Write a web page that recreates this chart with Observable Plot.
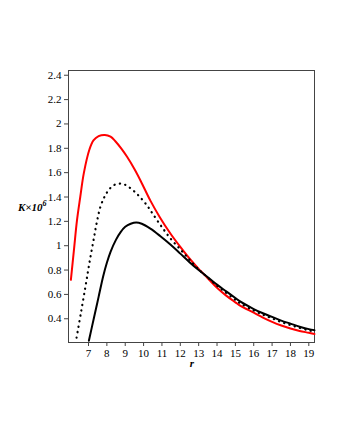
<!DOCTYPE html>
<html>
<head>
<meta charset="utf-8">
<script src="https://cdn.jsdelivr.net/npm/d3@7"></script>
<script src="https://cdn.jsdelivr.net/npm/@observablehq/plot@0.6"></script>
<style>
  html, body { margin: 0; padding: 0; background: #fff; }
  svg text { font-family: "Liberation Serif", "Times New Roman", Times, "DejaVu Serif", serif !important; }
</style>
</head>
<body>
<div id="chart"></div>
<script>
// Red solid curve
const redR = [6.04, 6.2, 6.37, 6.55, 6.75, 7.05, 7.27, 7.55, 7.89, 8.2, 8.45, 8.8, 9.1, 9.5, 9.85, 10.37, 10.9, 11.46, 12.0, 12.5, 13.0, 13.28, 14.0, 14.5, 15.0, 15.28, 16.0, 16.5, 17.0, 17.5, 18.0, 18.5, 19.0, 19.31];
const redK = [0.72, 0.955, 1.206, 1.40, 1.60, 1.79, 1.865, 1.9, 1.91, 1.895, 1.86, 1.795, 1.73, 1.63, 1.53, 1.37, 1.23, 1.10, 0.99, 0.895, 0.81, 0.767, 0.655, 0.59, 0.535, 0.505, 0.45, 0.41, 0.375, 0.345, 0.32, 0.30, 0.285, 0.275];

// Dotted curve
const dotR = [6.35, 6.6, 6.84, 7.05, 7.29, 7.45, 7.65, 7.9, 8.2, 8.45, 8.74, 9.0, 9.46, 9.8, 10.19, 10.46, 10.92, 11.46, 12.0, 12.5, 13.0, 13.28, 14.0, 14.5, 15.0, 15.28, 16.0, 16.5, 17.0, 17.5, 18.0, 18.5, 19.0, 19.31];
const dotK = [0.245, 0.46, 0.67, 0.86, 1.06, 1.19, 1.32, 1.41, 1.475, 1.502, 1.51, 1.50, 1.45, 1.40, 1.33, 1.27, 1.17, 1.06, 0.97, 0.885, 0.805, 0.767, 0.672, 0.613, 0.555, 0.525, 0.468, 0.433, 0.403, 0.373, 0.348, 0.325, 0.305, 0.295];

// Black solid curve
const blkR = [7.02, 7.3, 7.55, 7.8, 8.0, 8.2, 8.5, 8.74, 9.0, 9.3, 9.6, 9.9, 10.37, 10.9, 11.46, 12.0, 12.5, 13.0, 13.28, 14.0, 14.5, 15.0, 15.28, 16.0, 16.5, 17.0, 17.5, 18.0, 18.5, 19.0, 19.31];
const blkK = [0.22, 0.41, 0.58, 0.75, 0.86, 0.95, 1.05, 1.11, 1.155, 1.18, 1.19, 1.18, 1.14, 1.08, 1.01, 0.935, 0.865, 0.80, 0.767, 0.68, 0.625, 0.57, 0.54, 0.48, 0.445, 0.415, 0.385, 0.36, 0.335, 0.315, 0.305];

const xTicks = [7, 8, 9, 10, 11, 12, 13, 14, 15, 16, 17, 18, 19];
const yTicks = [0.4, 0.6, 0.8, 1, 1.2, 1.4, 1.6, 1.8, 2, 2.2, 2.4];
const xDomain = [5.91, 19.31];
const yDomain = [0.205, 2.439];

const toRows = (rs, ks) => rs.map((r, i) => ({r, k: ks[i]}));
const red = toRows(redR, redK);
const dot = toRows(dotR, dotK);
const blk = toRows(blkR, blkK);

const plot = Plot.plot({
  width: 340,
  height: 440,
  marginLeft: 68,
  marginRight: 26,
  marginTop: 70,
  marginBottom: 98,
  style: {fontFamily: "Liberation Serif, Times New Roman, serif", fontSize: "11px", color: "#000", background: "#fff"},
  x: {domain: xDomain, ticks: xTicks, tickSize: 4, tickPadding: 3, label: null},
  y: {domain: yDomain, ticks: yTicks, tickSize: 4, tickPadding: 3, label: null, tickFormat: d => String(d)},
  marks: [
    Plot.frame({stroke: "#444", strokeWidth: 1}),
    Plot.line(red, {x: "r", y: "k", stroke: "#ff0000", strokeWidth: 2, curve: "catmull-rom"}),
    Plot.line(dot, {x: "r", y: "k", stroke: "#000", strokeWidth: 2.2, strokeLinecap: "round", strokeDasharray: "0.3,5.2", curve: "catmull-rom"}),
    Plot.line(blk, {x: "r", y: "k", stroke: "#000", strokeWidth: 2, curve: "catmull-rom"})
  ]
});
document.getElementById("chart").appendChild(plot);

const svg = d3.select(plot);
svg.selectAll("g[aria-label='x-axis tick'], g[aria-label='y-axis tick']").attr("stroke", "#444");

const yl = svg.append("text")
  .attr("x", 18).attr("y", 211)
  .attr("text-anchor", "start")
  .attr("font-size", 11).attr("font-weight", "bold").attr("font-style", "italic")
  .attr("fill", "#000");
yl.append("tspan").text("K×10");
yl.append("tspan").attr("dy", -5).attr("font-size", 8).text("6");

svg.append("text")
  .attr("x", 192).attr("y", 367)
  .attr("text-anchor", "middle")
  .attr("font-size", 11).attr("font-weight", "bold").attr("font-style", "italic")
  .attr("fill", "#000")
  .text("r");
</script>
</body>
</html>
